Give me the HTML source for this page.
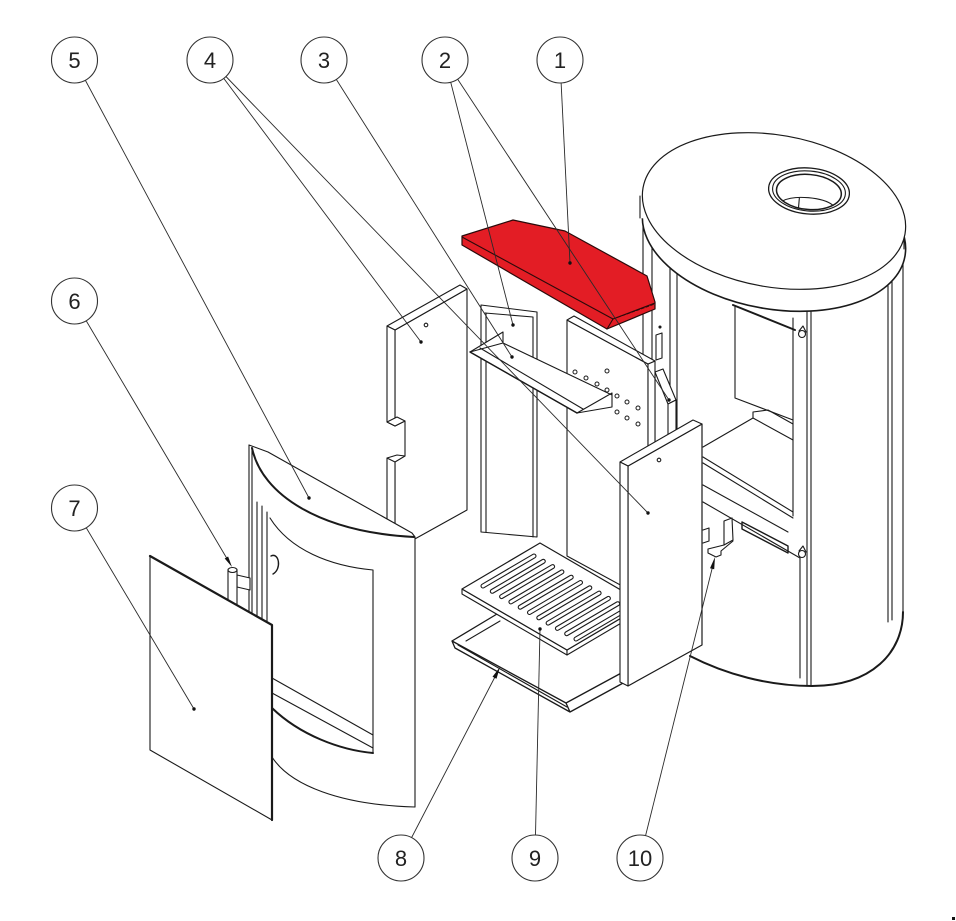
<!DOCTYPE html>
<html><head><meta charset="utf-8">
<style>
html,body{margin:0;padding:0;background:#fff;}
svg{display:block;}
</style></head><body>
<svg width="956" height="921" viewBox="0 0 956 921" xmlns="http://www.w3.org/2000/svg">
<rect width="956" height="921" fill="#fff"/>
<g fill="none" stroke="#1a1a1a" stroke-width="1.1" stroke-linejoin="round" stroke-linecap="round">

<!-- ===== STOVE BODY ===== -->
<path d="M643,200V470M652,230V470M670,240V470M677,245V470"/>
<path d="M807,280V686M811,280V686M888,240V622M892,240V620M903,220V612"/>
<path d="M793,318V516"/>
<path d="M903,612C903,652 872,686 812,686C768,686 725,674 690,656" stroke-width="2"/>
<!-- chamber -->
<path d="M733,305L795,330" stroke-width="2"/>
<path d="M735,306V398L793,420"/>
<path d="M703,447L753,418L793,440"/>
<path d="M753,418V412L768,410L793,424"/>
<path d="M703,457L793,512"/>
<path d="M703,463L793,518"/>
<path d="M703,485L788,532"/>
<path d="M703,502L800,558V678"/>
<path d="M742,522L788,546L788,553L742,529Z" stroke-width="1.4"/>
<!-- slot on left frame -->
<path d="M656,335L662,333L662,358L656,360Z"/>
<circle cx="660" cy="327" r="1" fill="#1a1a1a"/>
<!-- knobs -->
<circle cx="802" cy="334" r="3.5"/><path d="M799,331L803,326L806,332"/>
<circle cx="802" cy="554" r="3.5"/><path d="M799,551L803,546L806,552"/>

<!-- lid -->
<ellipse cx="774" cy="233" rx="133" ry="76" transform="rotate(10 774 233)" fill="#fff" stroke-width="1.6"/>
<polygon points="640,196 904,227 904,249 640,218" fill="#fff" stroke="none"/>
<path d="M640,196V218M904,227V249"/>
<ellipse cx="774" cy="211" rx="133" ry="76" transform="rotate(10 774 211)" fill="#fff" stroke-width="1.2"/>
<!-- flue -->
<g transform="rotate(5 809 191)">
<ellipse cx="809" cy="191" rx="40.5" ry="23" fill="#fff" stroke-width="1.3"/>
<ellipse cx="809" cy="191" rx="36.5" ry="20"/>
<ellipse cx="809" cy="192" rx="32.5" ry="17.5" stroke-width="1.5"/>
<path d="M784,203C795,196 823,196 834,203"/>
<path d="M800,199V209"/>
</g>

<!-- ===== PILLAR BRICK 2b ===== -->
<path d="M655,372L663,369L676,400L668,404Z" fill="#fff"/>
<path d="M668,404L676,400L676,445L668,448Z" fill="#fff"/>
<path d="M655,372V440"/>

<!-- ===== BACK BRICK ===== -->
<path d="M567,320L648,364L648,600L567,556Z" fill="#fff"/>
<path d="M648,364L655,361L655,598L648,600Z" fill="#fff"/>
<path d="M567,320L574,316L655,361L648,364Z" fill="#fff"/>
<g stroke-width="1">
<circle cx="575" cy="372" r="2"/><circle cx="586" cy="378" r="2"/><circle cx="597" cy="384" r="2"/>
<circle cx="607" cy="390" r="2"/><circle cx="617" cy="396" r="2"/><circle cx="627" cy="402" r="2"/>
<circle cx="638" cy="408" r="2"/><circle cx="607" cy="371" r="2"/>
<circle cx="617" cy="412" r="2"/><circle cx="627" cy="418" r="2"/><circle cx="638" cy="424" r="2"/>
</g>

<!-- ===== MIDDLE BRICK 2a ===== -->
<path d="M481,305L537,312L537,537L481,532Z" fill="#fff"/>
<path d="M485,313L533,317M486,313V532M533,317V537"/>

<!-- ===== SHELF 3 ===== -->
<path d="M470,352L503,332L503,343L612,395L612,407L577,413Z" fill="#fff"/>
<path d="M470,352L503,343M480,348L583,409M577,413L612,393L612,395" />
<path d="M470,352L577,413" stroke-width="1.4"/>

<!-- ===== RED BAFFLE 1 ===== -->
<path d="M462,236L513,220L565,231L647,276L655,302L655,309L607,329L462,245Z" fill="#e31d25" stroke="#2a0a0a" stroke-width="1.2"/>
<path d="M462,237L613,319L655,303M613,319L607,329" stroke="#2a0a0a"/>
<path d="M613,319L655,304" stroke="#2a0a0a" stroke-dasharray="3,2" stroke-width="0.8"/>

<!-- ===== LEFT BRICK 4a ===== -->
<path d="M395,330L467,289L467,510L395,550L395,462L405,456L405,421L395,426Z" fill="#fff"/>
<path d="M387,326L460,285L467,289L395,330Z" fill="#fff"/>
<path d="M387,326L395,330L395,426L387,422Z" fill="#fff"/>
<path d="M387,422L397,417L405,421L395,426Z" fill="#fff"/>
<path d="M387,458L395,462L395,550L387,546Z" fill="#fff"/>
<path d="M387,458L397,455L405,456"/>
<circle cx="426" cy="325" r="1.8"/>

<!-- ===== ASH PAN 8 ===== -->
<path d="M452,641L497,614L625,640L625,681L570,712L455,648Z" fill="#fff" stroke="none"/>
<path d="M452,641L566,703L625,671M455,648L570,712L625,682M566,703L570,712M452,641L455,648M452,641L497,614" stroke-width="1.3"/>
<path d="M466,641L500,621M458,645L567,707"/>

<!-- ===== GRATE 9 ===== -->
<path d="M462,589L567,650L567,655L462,594Z" fill="#fff"/>
<path d="M567,650L645,604L645,609L567,655Z" fill="#fff"/>
<path d="M462,589L540,543L645,604L567,650Z" fill="#fff" stroke-width="1.2"/>
<g stroke="#1a1a1a" stroke-width="5">
<path d="M483,586l51,-30M492.3,591.3l51,-30M501.6,596.6l51,-30M510.9,601.9l51,-30M520.2,607.2l51,-30M529.5,612.5l51,-30M538.8,617.8l51,-30M548.1,623.1l51,-30M557.4,628.4l51,-30M566.7,633.7l51,-30M576,639l51,-30"/>
</g>
<g stroke="#fff" stroke-width="2.8">
<path d="M483,586l51,-30M492.3,591.3l51,-30M501.6,596.6l51,-30M510.9,601.9l51,-30M520.2,607.2l51,-30M529.5,612.5l51,-30M538.8,617.8l51,-30M548.1,623.1l51,-30M557.4,628.4l51,-30M566.7,633.7l51,-30M576,639l51,-30"/>
</g>

<!-- ===== RIGHT BRICK 4b ===== -->
<path d="M628,466L702,424L702,645L628,686Z" fill="#fff" stroke-width="1.2"/>
<path d="M620,462L693,420L702,424L628,466Z" fill="#fff"/>
<path d="M620,462L628,466L628,686L620,682Z" fill="#fff"/>
<circle cx="659" cy="460" r="1.8"/>

<!-- ===== HOOK 10 ===== -->
<path d="M724,521L732,518L733,540L724,545Z" fill="#fff"/>
<path d="M724,545L712,548L708,549L708,553L716,557L721,555L721,551L733,541"/>
<path d="M703,530L709,528L709,541L703,543"/>

<!-- ===== DOOR 5 ===== -->
<path d="M249,445L268,452L412,533L415,537L415,807C340,805 290,785 272,757L249,757Z" fill="#fff" stroke="none"/>
<path d="M249,445V625M252,448V625M249,445L268,452L412,533L415,537V807"/>
<path d="M252,448C262,495 320,532 414,537" stroke-width="2"/>
<path d="M272,757C290,785 340,805 415,807"/>
<path d="M270,518C290,550 330,566 373,570V753"/>
<path d="M272,708C300,735 340,750 373,753" stroke-width="2"/>
<path d="M272,678L373,735M272,693L373,748"/>
<path d="M257,502V625M262,506V625M267,512V625"/>
<path d="M271,556C279,552 282,569 273,574" stroke-width="1.4"/>

<!-- ===== HINGE 6 ===== -->
<path d="M237,575L250,578L250,590L237,587Z" fill="#fff"/>
<path d="M228,570V610H237V570" fill="#fff"/>
<ellipse cx="232.5" cy="570" rx="4.5" ry="2.5" fill="#fff"/>

<!-- ===== GLASS 7 ===== -->
<path d="M150,556L272,625L272,820L150,750Z" fill="#fff"/>
<path d="M150,556L272,625L272,820" stroke-width="2.2"/>

</g>

<!-- ===== LEADERS ===== -->
<g stroke="#2a2a2a" stroke-width="0.9" fill="none">
<path d="M74.5,60L309,498"/>
<path d="M210,60L421,342"/>
<path d="M210,60L648,513"/>
<path d="M324,60L512,357"/>
<path d="M445,60L513,325"/>
<path d="M445,60L669,400"/>
<path d="M560,60L570,263"/>
<path d="M74.5,301L229,562"/>
<path d="M74.5,508L194,709"/>
<path d="M401,858L497,673"/>
<path d="M535,858L540,629"/>
<path d="M640,858L713,565"/>
</g>
<g fill="#111" stroke="none">
<circle cx="309" cy="498" r="1.7"/><circle cx="421" cy="342" r="1.7"/><circle cx="648" cy="513" r="1.7"/>
<circle cx="512" cy="357" r="1.7"/><circle cx="513" cy="325" r="1.7"/><circle cx="669" cy="400" r="1.7"/>
<circle cx="570" cy="263" r="1.7"/><circle cx="194" cy="709" r="1.7"/><circle cx="540" cy="629" r="1.7"/>
<polygon points="232,567 224.7,558.5 228.1,556.5"/>
<polygon points="500,667 496.5,678.7 492.5,676.7"/>
<polygon points="715,557 714.2,569.2 710,568.2"/>
<rect x="952" y="917" width="3" height="3"/>
</g>

<!-- ===== CALLOUT CIRCLES ===== -->
<g fill="#fff" stroke="#333" stroke-width="1.1">
<circle cx="74.5" cy="60" r="23"/>
<circle cx="210" cy="60" r="23"/>
<circle cx="324" cy="60" r="23"/>
<circle cx="445" cy="60" r="23"/>
<circle cx="560" cy="60" r="23"/>
<circle cx="74.5" cy="301" r="23"/>
<circle cx="74.5" cy="508" r="23"/>
<circle cx="401" cy="858" r="23"/>
<circle cx="535" cy="858" r="23"/>
<circle cx="640" cy="858" r="23"/>
</g>
<g font-family="'Liberation Sans', 'DejaVu Sans', sans-serif" font-size="22" fill="#222" text-anchor="middle">
<text x="74.5" y="68">5</text>
<text x="210" y="68">4</text>
<text x="324" y="68">3</text>
<text x="445" y="68">2</text>
<text x="560" y="68">1</text>
<text x="74.5" y="309">6</text>
<text x="74.5" y="516">7</text>
<text x="401" y="866">8</text>
<text x="535" y="866">9</text>
<text x="640" y="866">10</text>
</g>
</svg>
</body></html>
